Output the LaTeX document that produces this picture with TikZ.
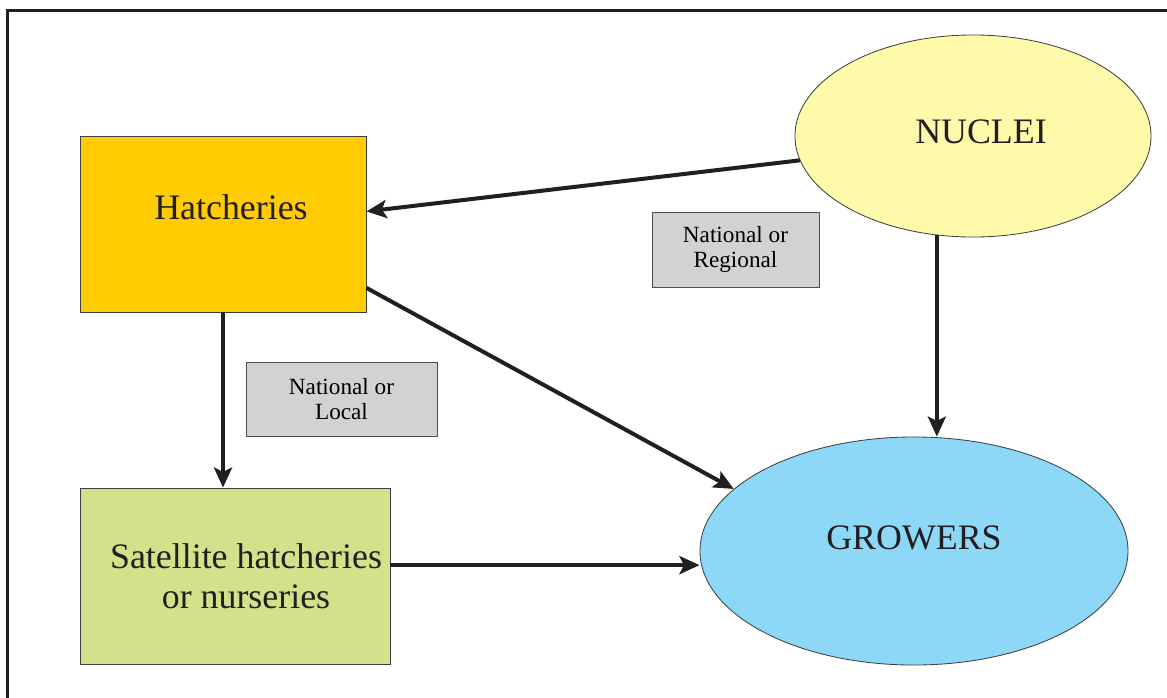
\documentclass[tikz,border=0pt]{standalone}
\usepackage{fontspec}
\setmainfont{Liberation Serif}
\usepackage{xcolor}
\usetikzlibrary{shapes.geometric,arrows.meta,positioning,calc}

\definecolor{hatchfill}{HTML}{FFCC03}
\definecolor{satfill}{HTML}{D4E18B}
\definecolor{nucfill}{HTML}{FFFAAA}
\definecolor{growfill}{HTML}{8DD8F7}
\definecolor{notefill}{HTML}{D1D2D4}
\definecolor{ink}{HTML}{231F20}

\begin{document}
\begin{tikzpicture}[x=0.025cm,y=-0.025cm]
  % Styles
  \tikzstyle{unitbox}=[rectangle, draw=black!75, line width=0.6pt, inner sep=0pt]
  \tikzstyle{pool}=[ellipse, draw=black!75, line width=0.6pt, inner sep=0pt]
  \tikzstyle{note}=[rectangle, draw=black!70, line width=0.6pt, fill=notefill, align=center,
                    font=\fontsize{16.5}{17.8}\selectfont]
  \tikzstyle{bigtext}=[font=\fontsize{25.5}{28.4}\selectfont, text=ink, align=center]
  \tikzstyle{flow}=[-{Stealth[length=0.5cm,width=0.45cm,inset=0.11cm]}, line width=0.1cm, draw=ink]

  \useasboundingbox (0,0) rectangle (1167,698);

  % Frame
  \draw[line width=0.075cm, ink] (7.5,698) -- (7.5,10.3) -- (1167,10.3);

  % Units
  \node[unitbox, fill=hatchfill, minimum width=7.15cm, minimum height=4.4cm,
        label={[bigtext, xshift=0.2cm, yshift=0.425cm]center:Hatcheries}] (hatch) at (223,224) {};
  \node[unitbox, fill=satfill, minimum width=7.75cm, minimum height=4.4cm,
        label={[bigtext, xshift=0.275cm]center:Satellite hatcheries\\or nurseries}] (sat) at (235,576) {};
  \node[pool, fill=nucfill, minimum width=8.9cm, minimum height=5.05cm,
        label={[bigtext, xshift=0.2cm, yshift=0.1cm]center:NUCLEI}] (nuclei) at (973,136) {};
  \node[pool, fill=growfill, minimum width=10.7cm, minimum height=5.7cm,
        label={[bigtext, yshift=0.325cm]center:GROWERS}] (growers) at (914,551) {};

  % Notes
  \node[note, minimum width=4.175cm, minimum height=1.875cm] (natreg) at (735.5,249.5) {National or\\Regional};
  \node[note, minimum width=4.775cm, minimum height=1.85cm] (natloc) at (341.5,399) {National or\\Local};

  % Flows
  \draw[flow] (nuclei.188) -- (hatch.5);
  \draw[flow] (hatch.336) -- (growers.161);
  \draw[flow] (hatch.south) -- (hatch.south |- sat.north);
  \draw[flow] (sat.4) -- (sat.4 -| growers.west);
  \draw[flow] (nuclei.250) -- (nuclei.250 |- growers.north);
\end{tikzpicture}
\end{document}
